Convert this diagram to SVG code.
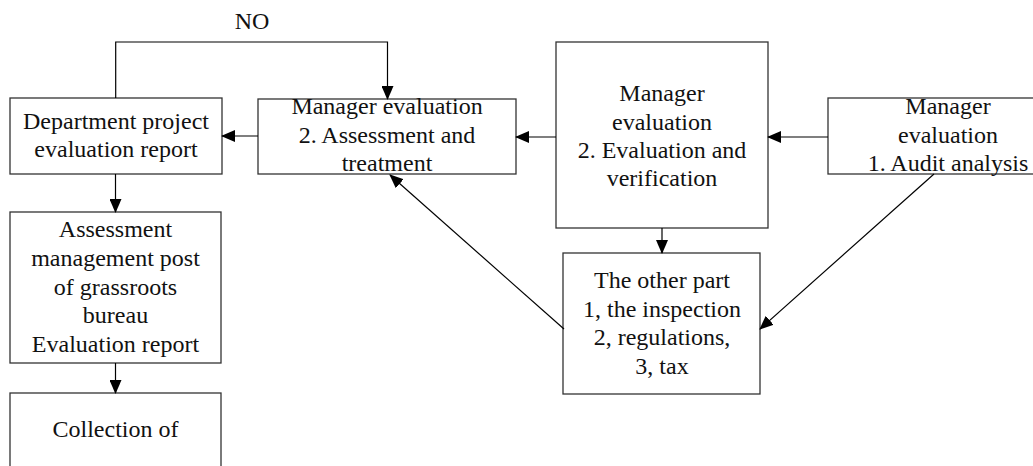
<svg xmlns="http://www.w3.org/2000/svg" width="1033" height="466" viewBox="0 0 1033 466">
<defs>
<marker id="ah" markerUnits="userSpaceOnUse" markerWidth="14" markerHeight="12" viewBox="0 0 14 12" refX="13" refY="6" orient="auto">
<path d="M0,0 L14,6 L0,12 z" fill="#000"/>
</marker>
</defs>
<style>
.box{fill:#fff;stroke:#333;stroke-width:1.3}
text{font-family:'Liberation Serif','Times New Roman',Times,serif;font-size:24px;fill:#111;text-anchor:middle}
.c{fill:none;stroke:#000;stroke-width:1.2;marker-end:url(#ah)}
</style>
<rect width="1033" height="466" fill="#fff"/>
<g font-family="Liberation Serif, Times New Roman, serif" font-size="24" text-anchor="middle">
<text x="252" y="28.5">NO</text>
<g id="dept">
<rect class="box" x="10" y="98" width="212" height="76"/>
<text x="116" y="129">Department project</text>
<text x="116" y="157">evaluation report</text>
</g>
<g id="eval2">
<rect class="box" x="258" y="99" width="258" height="75"/>
<text x="387" y="114">Manager evaluation</text>
<text x="387" y="143">2. Assessment and</text>
<text x="387" y="171">treatment</text>
</g>
<g id="verify">
<rect class="box" x="556" y="42" width="212" height="186"/>
<text x="662" y="101">Manager</text>
<text x="662" y="129.5">evaluation</text>
<text x="662" y="157.5">2. Evaluation and</text>
<text x="662" y="186">verification</text>
</g>
<g id="audit">
<rect class="box" x="828" y="98" width="215" height="76"/>
<text x="948" y="113.5">Manager</text>
<text x="948" y="143">evaluation</text>
<text x="948" y="171">1. Audit analysis</text>
</g>
<g id="other">
<rect class="box" x="563" y="253" width="197" height="141"/>
<text x="662" y="287.5">The other part</text>
<text x="662" y="316.5">1, the inspection</text>
<text x="662" y="345">2, regulations,</text>
<text x="662" y="373.5">3, tax</text>
</g>
<g id="assess">
<rect class="box" x="10" y="212" width="211" height="151"/>
<text x="115.5" y="237">Assessment</text>
<text x="115.5" y="266">management post</text>
<text x="115.5" y="294.5">of grassroots</text>
<text x="115.5" y="323">bureau</text>
<text x="115.5" y="351.5">Evaluation report</text>
</g>
<g id="collect">
<rect class="box" x="10" y="393" width="211" height="90"/>
<text x="115.5" y="437">Collection of</text>
</g>
</g>
<g id="connectors">
<polyline class="c" points="115.7,98 115.7,42 387.5,42 387.5,99"/>
<line class="c" x1="258" y1="136" x2="222" y2="136"/>
<line class="c" x1="556" y1="137" x2="516" y2="137"/>
<line class="c" x1="828" y1="137" x2="768" y2="137"/>
<line class="c" x1="662" y1="228" x2="662" y2="253"/>
<line class="c" x1="115.5" y1="174" x2="115.5" y2="212"/>
<line class="c" x1="115.5" y1="363" x2="115.5" y2="393"/>
<line class="c" x1="564" y1="329" x2="390" y2="175"/>
<line class="c" x1="934" y1="174" x2="760" y2="329"/>
</g>
</svg>
